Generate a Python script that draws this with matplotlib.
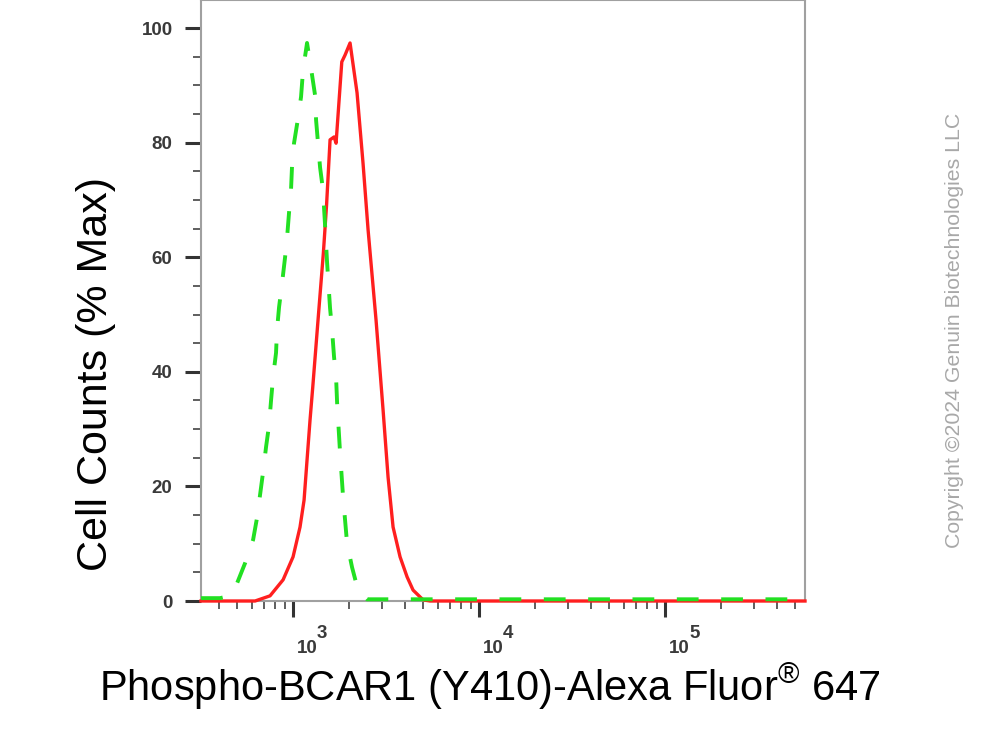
import matplotlib
matplotlib.use("Agg")
import matplotlib.pyplot as plt
import matplotlib.ticker as mticker

plt.rcParams['font.family'] = ['Liberation Sans', 'DejaVu Sans']
plt.rcParams['mathtext.fontset'] = 'custom'
plt.rcParams['mathtext.rm'] = 'Liberation Sans'
plt.rcParams['mathtext.it'] = 'Liberation Sans:italic'
plt.rcParams['mathtext.bf'] = 'Liberation Sans:bold'
plt.rcParams['mathtext.default'] = 'regular'

# ---- data ----
red_x = [320, 625, 752, 884, 1000, 1090, 1146, 1189, 1234, 1276, 1362, 1455, 1514,
         1581, 1662, 1703, 1828, 1904, 2025, 2208, 2378, 2531, 2794, 3048, 3242,
         3449, 3761, 4103, 4418, 4999, 5452, 565000]
red_y = [0, 0, 0.9, 3.7, 7.7, 12.9, 17.6, 24.6, 31.6, 37.3, 49.0, 60.7, 69.1,
         80.5, 81.0, 79.9, 94.1, 95.3, 97.4, 88.7, 76.4, 64.8, 49.0, 33.3, 21.6,
         12.9, 7.7, 4.2, 1.9, 0.2, 0, 0]

green_x = [320, 405, 458, 500, 552, 610, 640, 690, 716, 743, 762, 781, 810, 820,
           841, 873, 906, 929, 952, 975, 988, 1012, 1064, 1104, 1132, 1189, 1265,
           1313, 1330, 1362, 1397, 1449, 1486, 1523, 1581, 1621, 1661, 1703, 1725,
           1790, 1857, 1951, 2075, 2235, 2497, 565000]
green_y = [0.5, 0.5, 0.9, 3.1, 6.6, 10.7, 14.5, 22.5, 26.9, 30.7, 35.1, 39.1, 43.3,
           47.3, 51.3, 55.5, 60.0, 63.5, 67.9, 71.7, 76.1, 79.9, 84.3, 88.0, 92.7,
           97.4, 91.8, 88.3, 83.9, 79.9, 75.7, 71.7, 65.6, 59.2, 51.1, 47.3, 42.6,
           39.1, 34.6, 25.8, 18.2, 10.1, 5.9, 1.9, 0.3, 0.3]

y_ticks = [0, 20, 40, 60, 80, 100]
y_ticklabels = ['0', '20', '40', '60', '80', '100']
x_ticks = [1e3, 1e4, 1e5]
x_tick_base = ['10', '10', '10']
x_tick_exp = ['3', '4', '5']

x_label = 'Phospho-BCAR1 (Y410)-Alexa Fluor$^{®}$ 647'
y_label = 'Cell Counts (% Max)'
copyright_text = 'Copyright \u00a92024 Genuin Biotechnologies LLC'

# ---- figure ----
fig = plt.figure(figsize=(9.85, 7.3), dpi=100)
ax = fig.add_axes([201 / 985, 1 - 601 / 730, 604 / 985, 601 / 730])

ax.plot(red_x, red_y, color='#ff1f1f', lw=2.4, solid_joinstyle='round',
        zorder=3, clip_on=False)
ax.plot(green_x, green_y, color='#22e022', lw=2.8, dashes=(5.6, 5.8),
        dash_capstyle='butt', zorder=4, clip_on=False)

ax.set_xscale('log')
ax.set_xlim(320, 565000)
ax.set_ylim(0, 104.9)

ax.set_yticks(y_ticks)
ax.set_yticklabels(y_ticklabels)
ax.yaxis.set_minor_locator(mticker.MultipleLocator(5))

ax.set_xticks(x_ticks)
ax.set_xticklabels([''] * len(x_ticks))
ax.xaxis.set_minor_locator(mticker.LogLocator(base=10, subs=range(2, 10), numticks=20))
ax.xaxis.set_minor_formatter(mticker.NullFormatter())

for sp in ax.spines.values():
    sp.set_color('#a0a0a0')
    sp.set_linewidth(1.5)

ax.tick_params(axis='both', which='major', direction='out', length=11.5,
               width=2.2, color='#333333', labelsize=13.5, labelcolor='#3a3a3a')
ax.tick_params(axis='both', which='minor', direction='out', length=5.8,
               width=1.1, color='#333333')
ax.tick_params(axis='y', which='major', pad=9)
for lab in ax.get_yticklabels():
    lab.set_fontweight('bold')

# x tick labels: "10" with a raised exponent
for v, b, e in zip(x_ticks, x_tick_base, x_tick_exp):
    ax.annotate(b, xy=(v, 0), xycoords=('data', 'axes fraction'),
                xytext=(4, -52), textcoords='offset pixels', ha='left',
                va='baseline', fontsize=13.5, fontweight='bold', color='#3a3a3a',
                annotation_clip=False)
    ax.annotate(e, xy=(v, 0), xycoords=('data', 'axes fraction'),
                xytext=(24, -37), textcoords='offset pixels', ha='left',
                va='baseline', fontsize=13.5, fontweight='bold', color='#3a3a3a',
                annotation_clip=False)

fig.text(490 / 985, 1 - 701 / 730, x_label, fontsize=30, ha='center',
         va='baseline', color='black')
fig.text(96 / 985, 1 - 374 / 730, y_label, fontsize=31, ha='center',
         va='center', rotation=90, color='black')
fig.text(955 / 985, 1 - 330 / 730, copyright_text, fontsize=15.3, ha='center',
         va='center', rotation=90, color='#a8a8a8')

fig.savefig('out.png', dpi=100)
